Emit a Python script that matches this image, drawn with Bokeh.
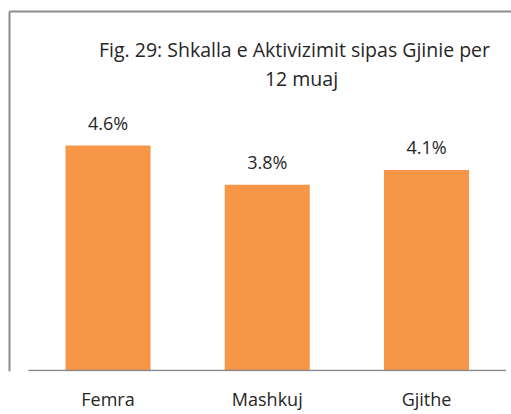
from bokeh.plotting import figure
from bokeh.models import Range1d, FixedTicker, ColumnDataSource
from bokeh.core.properties import value
from bokeh.embed import file_html
from bokeh.resources import INLINE

# ---- data ----
categories = ["Femra", "Mashkuj", "Gjithe"]
values = [4.6, 3.8, 4.1]
value_labels = ["4.6%", "3.8%", "4.1%"]
title_lines = ["Fig. 29: Shkalla e Aktivizimit sipas Gjinie per", "12 muaj"]

FONT = "Open Sans"
TEXT_COLOR = "#262626"
BAR_COLOR = "#F79646"
FRAME_COLOR = "#8c8c8c"

W, H = 511, 414
BOTTOM = 43
px_per_x = 159.25
x_start = -27.9 / px_per_x
x_end = x_start + W / px_per_x
frame_h = H - BOTTOM
px_per_y = 48.91
y_start = -1.0 / px_per_y
y_end = y_start + frame_h / px_per_y

xs = [i + 0.5 for i in range(len(categories))]
src = ColumnDataSource(dict(x=xs, top=values, lab=value_labels))

p = figure(width=W, height=H, output_backend="svg", toolbar_location=None,
           x_range=Range1d(x_start, x_end), y_range=Range1d(y_start, y_end),
           y_axis_location=None, min_border_left=0, min_border_right=0,
           min_border_top=0, min_border_bottom=BOTTOM)
p.title.visible = False
p.outline_line_color = None
p.grid.grid_line_color = None
p.background_fill_color = "white"
p.border_fill_color = "white"

# x axis (category labels)
ax = p.xaxis[0]
ax.ticker = FixedTicker(ticks=xs)
ax.major_label_overrides = {x: c for x, c in zip(xs, categories)}
ax.axis_line_color = None
ax.major_tick_line_color = None
ax.minor_tick_line_color = None
ax.major_tick_out = 0
ax.major_tick_in = 0
ax.major_label_standoff = 15
ax.major_label_text_font = FONT
ax.major_label_text_font_size = "18px"
ax.major_label_text_color = TEXT_COLOR

# chart border (left and top edges of the outer chart box)
bx = x_start + 9.0 / px_per_x
by = y_end - 11.0 / px_per_y
p.segment(x0=[bx, bx], y0=[y_start, by], x1=[bx, x_end], y1=[by, by],
          line_color=FRAME_COLOR, line_width=2)

# bars
p.vbar(x="x", top="top", bottom=0, width=0.534, source=src,
       fill_color=BAR_COLOR, line_color=None)

# baseline
p.segment(x0=[0], y0=[0], x1=[len(categories)], y1=[0],
          line_color="#898989", line_width=1.5)

# value labels
p.text(x="x", y="top", text="lab", source=src, text_align="center",
       text_baseline="alphabetic", y_offset=-23,
       text_font=value(FONT), text_font_size="18px", text_color=TEXT_COLOR)

# title (two lines)
p.text(x=[x_start + 294 / px_per_x], y=[y_end - 49 / px_per_y], text=[title_lines[0]],
       text_align="center", text_baseline="alphabetic",
       text_font=value(FONT), text_font_size="19.5px", text_color=TEXT_COLOR)
p.text(x=[x_start + 301 / px_per_x], y=[y_end - 78 / px_per_y], text=[title_lines[1]],
       text_align="center", text_baseline="alphabetic",
       text_font=value(FONT), text_font_size="19.5px", text_color=TEXT_COLOR)

open("out.html", "w").write(file_html(p, INLINE))
